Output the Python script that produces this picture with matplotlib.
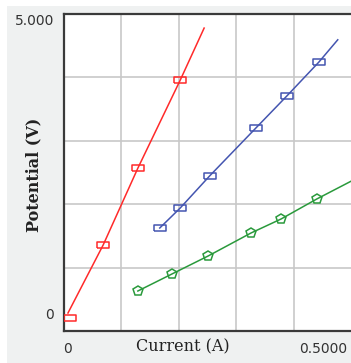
import matplotlib.pyplot as plt
import matplotlib.patches as mpatches
import numpy as np

# data (current in A, potential in V)
red_line_i = [0.0, 0.069, 0.137, 0.220, 0.267]
red_line_v = [0.0, 1.16, 2.47, 3.97, 4.86]
red_mark_i = [0.004, 0.069, 0.137, 0.220]
red_mark_v = [-0.085, 1.16, 2.47, 3.97]

blue_line_i = [0.180, 0.220, 0.278, 0.369, 0.429, 0.492, 0.529]
blue_line_v = [1.45, 1.79, 2.34, 3.16, 3.70, 4.28, 4.66]
blue_mark_i = [0.180, 0.220, 0.278, 0.369, 0.429, 0.492]
blue_mark_v = [1.45, 1.79, 2.34, 3.16, 3.70, 4.28]

green_line_i = [0.137, 0.204, 0.275, 0.359, 0.418, 0.488, 0.560]
green_line_v = [0.375, 0.666, 0.973, 1.365, 1.604, 1.945, 2.27]
green_mark_i = [0.137, 0.204, 0.275, 0.359, 0.418, 0.488]
green_mark_v = [0.375, 0.666, 0.973, 1.365, 1.604, 1.945]

x_ticks = [0, 0.5]
x_ticklabels = ["0", "0.5000"]
y_ticks = [0, 5]
y_ticklabels = ["0", "5.000"]

xmin, xmax = -0.0078, 0.555
ymin, ymax = -0.307, 5.10

W, H = 351, 363
fig = plt.figure(figsize=(W / 100, H / 100), dpi=100)
fig.patch.set_facecolor("white")
fig.patches.append(mpatches.Rectangle((7 / W, 0), 1, 1 - 6 / H, transform=fig.transFigure,
                                      facecolor="#eff1f1", edgecolor="none", zorder=-5))

ax = fig.add_axes([64 / W, 32 / H, (W - 64) / W, (331 - 14) / H])
ax.set_facecolor("white")
ax.set_xlim(xmin, xmax)
ax.set_ylim(ymin, ymax)

for gx in np.linspace(xmin, xmax, 6)[1:-1]:
    ax.axvline(gx, color="#c8c8c8", lw=1.2, zorder=1)
for gy in np.linspace(ymin, ymax, 6)[1:-1]:
    ax.axhline(gy, color="#c8c8c8", lw=1.2, zorder=1)

rect = [(-1, -0.55), (1, -0.55), (1, 0.55), (-1, 0.55), (-1, -0.55)]

ax.plot(red_line_i, red_line_v, color="#ff2a2a", lw=1.1, zorder=3)
ax.plot(red_mark_i, red_mark_v, ls="none", marker=rect, ms=9, mfc="none",
        mec="#ff2a2a", mew=1.1, zorder=4)

ax.plot(blue_line_i, blue_line_v, color="#4455b0", lw=1.1, zorder=3)
ax.plot(blue_mark_i, blue_mark_v, ls="none", marker=rect, ms=9, mfc="none",
        mec="#4455b0", mew=1.1, zorder=4)

ax.plot(green_line_i, green_line_v, color="#2a9a3c", lw=1.1, zorder=3)
ax.plot(green_mark_i, green_mark_v, ls="none", marker="p", ms=7, mfc="none",
        mec="#2a9a3c", mew=1.1, zorder=4)

for s in ["left", "bottom", "top"]:
    ax.spines[s].set_color("#3a3a3a")
    ax.spines[s].set_linewidth(1.6)
ax.spines["right"].set_visible(False)

ax.set_xticks(x_ticks)
ax.set_xticklabels(x_ticklabels)
ax.set_yticks(y_ticks)
ax.set_yticklabels(y_ticklabels)
ax.tick_params(length=0, labelsize=10, labelcolor="#333333")
ax.tick_params(axis="x", pad=8)
ax.tick_params(axis="y", pad=7)

fig.text(183 / W, 1 - 347 / H, "Current (A)", family="DejaVu Serif", fontsize=11.5,
         color="#222222", ha="center", va="center")
fig.text(34 / W, 1 - 175 / H, "Potential (V)", family="DejaVu Serif", fontsize=11.5,
         color="#222222", ha="center", va="center", rotation=90, weight="bold")

fig.savefig("out.png", dpi=100)
